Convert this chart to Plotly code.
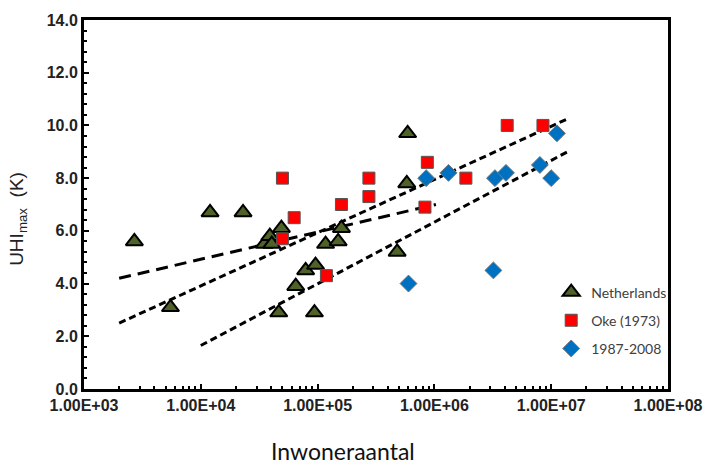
import plotly.graph_objects as go

# ---- data ----
nl_x = [2700, 5500, 12000, 23000, 35000, 39000, 40500, 49000, 46500, 65000,
        79000, 96000, 94000, 117000, 150000, 160000, 480000, 590000, 580000]
nl_y = [5.6, 3.1, 6.7, 6.7, 5.5, 5.8, 5.5, 6.1, 2.9, 3.9,
        4.5, 4.7, 2.9, 5.5, 5.6, 6.1, 5.2, 9.7, 7.8]

oke_x = [50000, 63000, 50000, 160000, 119000, 275000, 275000, 870000, 830000,
         1860000, 4200000, 8500000]
oke_y = [8.0, 6.5, 5.7, 7.0, 4.3, 8.0, 7.3, 8.6, 6.9, 8.0, 10.0, 10.0]

rec_x = [850000, 1320000, 3300000, 4100000, 8000000, 11200000, 10000000, 600000, 3200000]
rec_y = [8.0, 8.2, 8.0, 8.2, 8.5, 9.7, 8.0, 4.0, 4.5]

# trendline end points
nl_trend_x = [2000, 1030000]
nl_trend_y = [4.2, 7.0]
oke_trend_x = [2000, 13800000]
oke_trend_y = [2.5, 10.25]
rec_trend_x = [10000, 13800000]
rec_trend_y = [1.65, 9.0]

x_tickvals = [1e3, 1e4, 1e5, 1e6, 1e7, 1e8]
x_ticktext = ["1.00E+03", "1.00E+04", "1.00E+05", "1.00E+06", "1.00E+07", "1.00E+08"]

names = ["Netherlands", "Oke (1973)", "1987-2008"]

fig = go.Figure()

dash_long = "12px,7px"
dash_short = "7px,4px"
for tx, ty, dsh in [(nl_trend_x, nl_trend_y, dash_long),
                    (oke_trend_x, oke_trend_y, dash_short),
                    (rec_trend_x, rec_trend_y, dash_short)]:
    fig.add_trace(go.Scatter(x=tx, y=ty, mode="lines", showlegend=False,
                             line=dict(color="black", width=3, dash=dsh),
                             hoverinfo="skip"))

fig.add_trace(go.Scatter(x=nl_x, y=nl_y, mode="markers", name=names[0], legendgroup="a",
                         marker=dict(symbol="triangle-up", size=15, color="#4F6228",
                                     line=dict(color="black", width=2))))
fig.add_trace(go.Scatter(x=oke_x, y=oke_y, mode="markers", name=names[1], legendgroup="b",
                         marker=dict(symbol="square", size=12, color="#FF0000",
                                     line=dict(color="#555555", width=1))))
fig.add_trace(go.Scatter(x=rec_x, y=rec_y, mode="markers", name=names[2], legendgroup="c",
                         marker=dict(symbol="diamond", size=13, color="#0070C0",
                                     line=dict(color="#777777", width=1))))

tickfont = dict(family="Liberation Sans, Arial", size=16, color="#222222", weight="bold")

fig.update_xaxes(type="log", range=[3, 8], tickvals=x_tickvals, ticktext=x_ticktext,
                 showgrid=False, zeroline=False, showline=True, linecolor="black",
                 linewidth=3, mirror=True, ticks="inside", ticklen=5, tickwidth=2,
                 tickcolor="black", tickfont=tickfont,
                 minor=dict(ticks="inside", ticklen=3, tickwidth=1.5, tickcolor="black",
                            dtick="D1", showgrid=False))
fig.update_yaxes(range=[0, 14], dtick=2, tickformat=".1f",
                 showgrid=False, zeroline=False, showline=True, linecolor="black",
                 linewidth=3, mirror=True, ticks="inside", ticklen=5, tickwidth=2,
                 tickcolor="black", tickfont=tickfont,
                 minor=dict(ticks="inside", ticklen=3, tickwidth=1.5, tickcolor="black",
                            dtick=0.4, showgrid=False))

fig.update_layout(
    width=715, height=465,
    margin=dict(l=84, r=43, t=15, b=76),
    plot_bgcolor="white", paper_bgcolor="white",
    showlegend=True,
    legend=dict(x=0.8, y=0.305, xanchor="left", yanchor="top",
                bgcolor="rgba(0,0,0,0)", tracegroupgap=7,
                font=dict(family="Lato, Carlito, sans-serif", size=14, color="#404040")),
    annotations=[
        dict(text="Inwoneraantal", xref="paper", yref="paper", x=0.444, y=-0.168,
             xanchor="center", yanchor="middle", showarrow=False,
             font=dict(family="Lato, Carlito, sans-serif", size=23, color="#111111")),
        dict(text="UHI<sub>max</sub>  (K)", xref="paper", yref="paper", x=-0.112, y=0.46,
             xanchor="center", yanchor="middle", showarrow=False, textangle=-90,
             font=dict(family="Liberation Sans, Arial", size=19, color="#222222")),
    ],
)

fig.write_html("out.html")
